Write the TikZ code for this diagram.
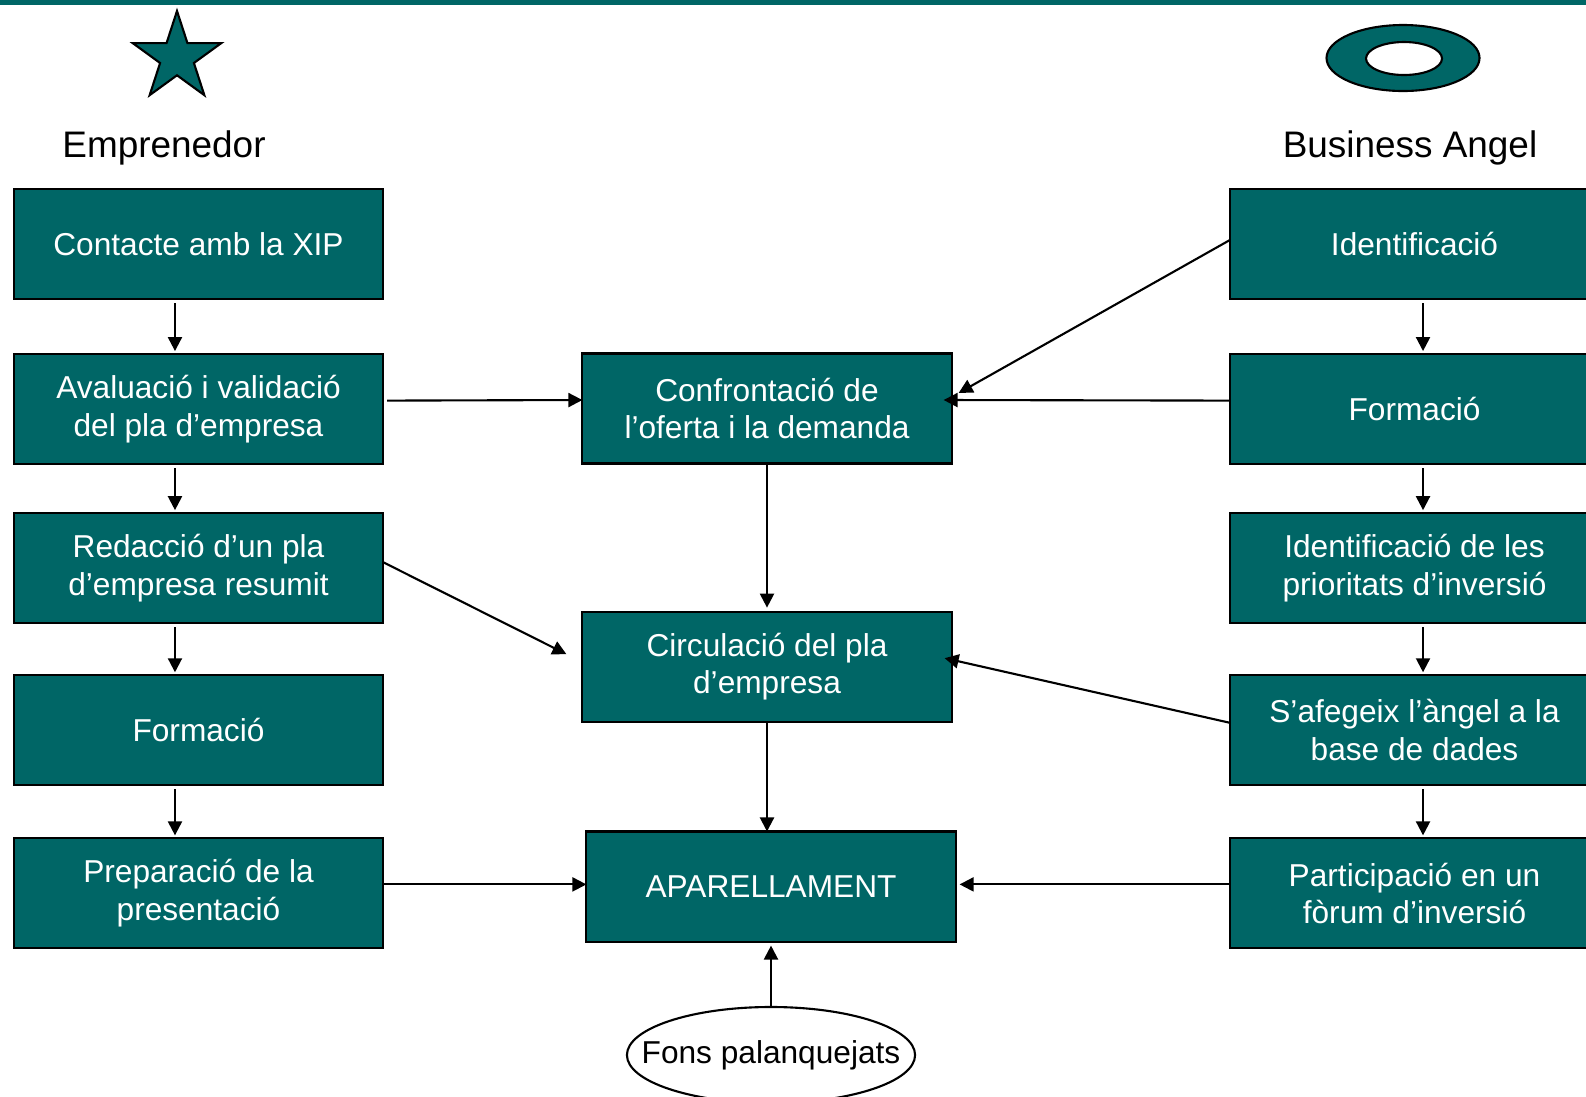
\documentclass[tikz,border=0pt]{standalone}
\usepackage{fontspec}
\setmainfont{Liberation Sans}
\usetikzlibrary{positioning,shapes.geometric,arrows.meta,calc}
\definecolor{xipteal}{RGB}{0,102,102}

\begin{document}
\begin{tikzpicture}[
    x=0.01cm, y=-0.01cm,
    stage/.style={rectangle, draw=black, line width=0.6pt, fill=xipteal, text=white, outer sep=0pt,
        minimum width=3.69cm, minimum height=1.1cm, align=center, font=\fontsize{9}{10.7}\selectfont},
    head/.style={anchor=base, font=\fontsize{10.5}{12}\selectfont},
    flow/.style={-{Triangle[length=0.14cm,width=0.14cm]}, line width=0.6pt},
    node distance=0.52cm
]
    \useasboundingbox (0,0) rectangle (1586,1096);
    \fill[xipteal] (0,0) rectangle (1586,5);

    % icons and headings
    \node[star, star points=5, star point ratio=2.618, minimum size=0.93cm, inner sep=0pt,
        fill=xipteal, draw=black, line width=0.6pt] (emprIcon) at (177,57.5) {};
    \filldraw[fill=xipteal, draw=black, line width=0.6pt, even odd rule]
        (1403,58) ellipse [x radius=76.5, y radius=33]
        (1404,58.5) ellipse [x radius=38, y radius=16.5];
    \node[head] (emprTitle) at (164,157) {Emprenedor};
    \node[head] (angelTitle) at (1410,157) {Business Angel};

    % emprenedor column
    \node[stage] (contact) at (198.5,244) {Contacte amb la XIP};
    \node[stage, below=0.55cm of contact] (aval) {Avaluació i validació\\del pla d’empresa};
    \node[stage, below=0.49cm of aval] (redac) {Redacció d’un pla\\d’empresa resumit};
    \node[stage, below=0.52cm of redac] (formE) {Formació};
    \node[stage, below=0.53cm of formE] (prep) {Preparació de la\\presentació};

    % business angel column
    \node[stage] (ident) at (1414.5,244) {Identificació};
    \node[stage, below=0.55cm of ident] (formA) {Formació};
    \node[stage, below=0.49cm of formA] (prior) {Identificació de les\\prioritats d’inversió};
    \node[stage, below=0.52cm of prior] (afeg) {S’afegeix l’àngel a la\\base de dades};
    \node[stage, below=0.53cm of afeg] (forum) {Participació en un\\fòrum d’inversió};

    % middle
    \node[stage] (confr) at (767,408.5) {Confrontació de\\l’oferta i la demanda};
    \node[stage, below=1.48cm of confr] (circ) {Circulació del pla\\d’empresa};
    \node[stage] (apar) at (771,886.5) {APARELLAMENT};
    \node[ellipse, draw=black, line width=0.6pt, minimum width=2.88cm, minimum height=0.96cm,
        inner xsep=-0.3cm, inner ysep=0pt, font=\fontsize{9}{10.7}\selectfont] (fons) at (771,1055) {Fons palanquejats};

    % vertical flows
    \foreach \a/\b in {contact/aval, aval/redac, redac/formE, formE/prep}
        \draw[flow, shorten <=0.04cm, shorten >=0.03cm] ([xshift=-0.235cm]\a.south) -- ([xshift=-0.235cm]\b.north);
    \foreach \a/\b in {ident/formA, formA/prior, prior/afeg, afeg/forum}
        \draw[flow, shorten <=0.04cm, shorten >=0.03cm] ([xshift=0.085cm]\a.south) -- ([xshift=0.085cm]\b.north);

    \draw[flow] ([xshift=0.04cm,yshift=0.085cm]aval.east) -- ([yshift=0.085cm]confr.west);
    \draw[flow] ([yshift=0.085cm]formA.west) -- ([xshift=-0.08cm,yshift=0.085cm]confr.east);
    \draw[flow] ([yshift=0.04cm]ident.west) -- ([xshift=0.07cm,yshift=0.155cm]confr.east);
    \draw[flow, shorten >=0.04cm] (confr.south) -- (circ.north);
    \draw[flow] ([yshift=0.06cm]redac.east) -- ([xshift=-0.16cm,yshift=0.125cm]circ.west);
    \draw[flow] ([yshift=0.075cm]afeg.west) -- ([xshift=-0.07cm,yshift=0.085cm]circ.east);
    \draw[flow] (circ.south) -- (circ.south |- apar.north);
    \draw[flow] ([yshift=0.09cm]prep.east) -- ([yshift=0.09cm]prep.east -| apar.west);
    \draw[flow, shorten >=0.04cm] ([yshift=0.09cm]forum.west) -- ([yshift=0.09cm]forum.west -| apar.east);
    \draw[flow, shorten >=0.04cm] (fons.north) -- (apar.south);
\end{tikzpicture}
\end{document}
